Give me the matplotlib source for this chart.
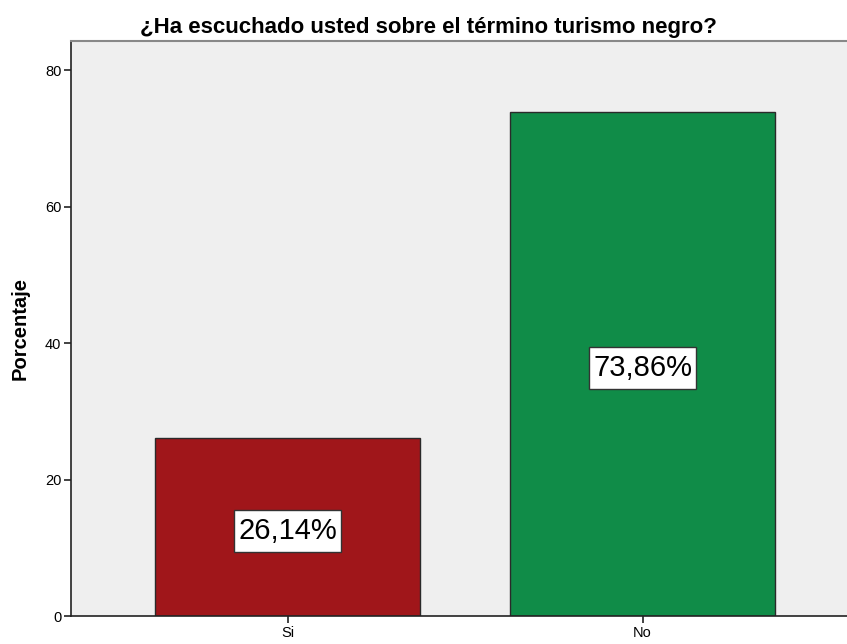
import matplotlib
matplotlib.use("Agg")
import matplotlib.pyplot as plt
from matplotlib.path import Path

categories = ["Si", "No"]
values = [26.14, 73.86]
labels = ["26,14%", "73,86%"]
colors = ["#A0161A", "#108C48"]
yticks = [0, 20, 40, 60, 80]

plt.rcParams['font.family'] = ['Liberation Sans', 'DejaVu Sans']


def label_box(x0, y0, width, height, mutation_size):
    padx = 0.13 * mutation_size
    pady = 0.24 * mutation_size
    verts = [(x0 - padx, y0 - pady), (x0 + width + padx, y0 - pady),
             (x0 + width + padx, y0 + height + pady), (x0 - padx, y0 + height + pady),
             (x0 - padx, y0 - pady)]
    return Path(verts, closed=True)


fig = plt.figure(figsize=(8.47, 6.44), dpi=100)
ax = fig.add_axes([71/847, 28/644, 1 - 71/847, (616-41)/644])
ax.set_facecolor("#EFEFEF")

x = list(range(len(categories)))
ax.bar(x, values, width=0.746, color=colors, edgecolor="#2a2a2a", linewidth=1.0, zorder=2)
for xi, v, lab in zip(x, values, labels):
    ax.annotate(lab, xy=(xi, v / 2), xytext=(0, -3.2), textcoords="offset points",
                ha="center", va="center", fontsize=21, zorder=3,
                bbox=dict(boxstyle=label_box, facecolor="white", edgecolor="#333333", linewidth=1.0))

ax.set_xlim(-0.61, 1.576)
ax.set_ylim(0, 84.25)
ax.set_yticks(yticks)
ax.set_yticklabels([str(t) for t in yticks], fontsize=10.5)
ax.set_xticks(x)
ax.set_xticklabels(categories, fontsize=10.5)
ax.tick_params(axis="both", length=5, width=1.2, color="#222222", pad=2)
ax.spines["right"].set_visible(False)
ax.spines["top"].set_color("#888888")
ax.spines["top"].set_linewidth(1.5)
ax.spines["left"].set_color("#222222")
ax.spines["left"].set_linewidth(1.2)
ax.spines["bottom"].set_color("#222222")
ax.spines["bottom"].set_linewidth(1.2)

ax.set_ylabel("Porcentaje", fontsize=14.5, fontweight="bold", labelpad=11)
ax.set_title("¿Ha escuchado usted sobre el término turismo negro?", fontsize=16, fontweight="bold",
             pad=6, x=(428 - 71) / (847 - 71))

fig.savefig("out.png", dpi=100)
